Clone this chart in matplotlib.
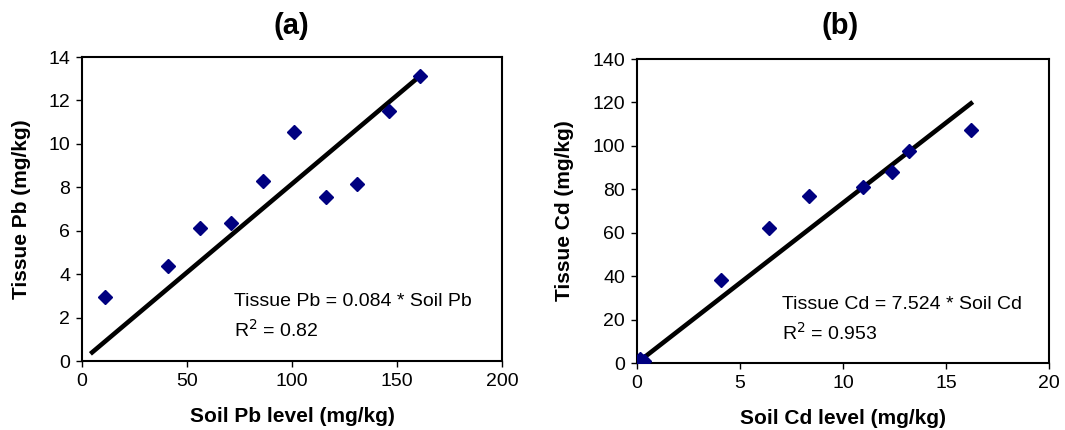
import matplotlib
matplotlib.use("Agg")
import matplotlib.pyplot as plt

plt.rcParams['font.family'] = ['Liberation Sans', 'DejaVu Sans']

# ---- Data ----
soil_pb = [11, 41, 56, 71, 86, 101, 116, 131, 146, 161]
tissue_pb = [2.96, 4.37, 6.14, 6.37, 8.29, 10.53, 7.55, 8.15, 11.50, 13.14]
fit_pb_x = [4, 160]
fit_pb_y = [0.33, 13.05]

soil_cd = [0.15, 0.35, 4.09, 6.40, 8.33, 10.95, 12.38, 13.21, 16.22]
tissue_cd = [1.8, 1.0, 38.0, 62.3, 76.7, 81.2, 87.9, 97.7, 107.5]
fit_cd_x = [0.1, 16.3]
fit_cd_y = [0.75, 120.2]

W, H = 1065, 430
fig = plt.figure(figsize=(W / 100, H / 100), dpi=100)


def px_axes(left, top, right, bottom):
    return fig.add_axes([left / W, 1 - bottom / H, (right - left) / W, (bottom - top) / H])


def style(ax):
    for s in ax.spines.values():
        s.set_linewidth(1.5)
        s.set_color('black')
    ax.tick_params(direction='out', length=4.5, width=1, labelsize=14, colors='black', pad=4)


marker_kw = dict(linestyle='none', marker='D', markersize=7.6, color='#000080',
                 markeredgecolor='#000080', zorder=3)
line_kw = dict(color='black', linewidth=3.3, solid_capstyle='butt', zorder=2)
lab_kw = dict(fontsize=15, fontweight='bold')
ann_kw = dict(fontsize=14, va='baseline', ha='left')

# ---- Panel (a) ----
ax1 = px_axes(82, 57, 502, 361)
ax1.plot(fit_pb_x, fit_pb_y, **line_kw)
ax1.plot(soil_pb, tissue_pb, **marker_kw)
ax1.set_xlim(0, 200)
ax1.set_ylim(0, 14)
ax1.set_xticks([0, 50, 100, 150, 200])
ax1.set_yticks(range(0, 15, 2))
style(ax1)
ax1.set_xlabel('Soil Pb level (mg/kg)', va='baseline', **lab_kw)
ax1.set_ylabel('Tissue Pb (mg/kg)', va='center', **lab_kw)
ax1.xaxis.set_label_coords(0.5, -0.20)
ax1.yaxis.set_label_coords(-0.143, 0.5)
ax1.text(72.4, 2.55, 'Tissue Pb = 0.084 * Soil Pb', **ann_kw)
ax1.text(72.4, 1.12, 'R$^2$ = 0.82', **ann_kw)

# ---- Panel (b) ----
ax2 = px_axes(637, 59, 1049, 363)
ax2.plot(fit_cd_x, fit_cd_y, **line_kw)
ax2.plot(soil_cd, tissue_cd, **marker_kw)
ax2.set_xlim(0, 20)
ax2.set_ylim(0, 140)
ax2.set_xticks([0, 5, 10, 15, 20])
ax2.set_yticks(range(0, 141, 20))
style(ax2)
ax2.set_xlabel('Soil Cd level (mg/kg)', va='baseline', **lab_kw)
ax2.set_ylabel('Tissue Cd (mg/kg)', va='center', **lab_kw)
ax2.xaxis.set_label_coords(0.5, -0.20)
ax2.yaxis.set_label_coords(-0.177, 0.5)
ax2.text(7.02, 24.7, 'Tissue Cd = 7.524 * Soil Cd', **ann_kw)
ax2.text(7.02, 10.9, 'R$^2$ = 0.953', **ann_kw)

# ---- Titles ----
fig.text(291 / W, 1 - 26 / H, '(a)', fontsize=21, fontweight='bold', ha='center', va='center')
fig.text(840 / W, 1 - 26 / H, '(b)', fontsize=21, fontweight='bold', ha='center', va='center')

fig.savefig('out.png', dpi=100)
